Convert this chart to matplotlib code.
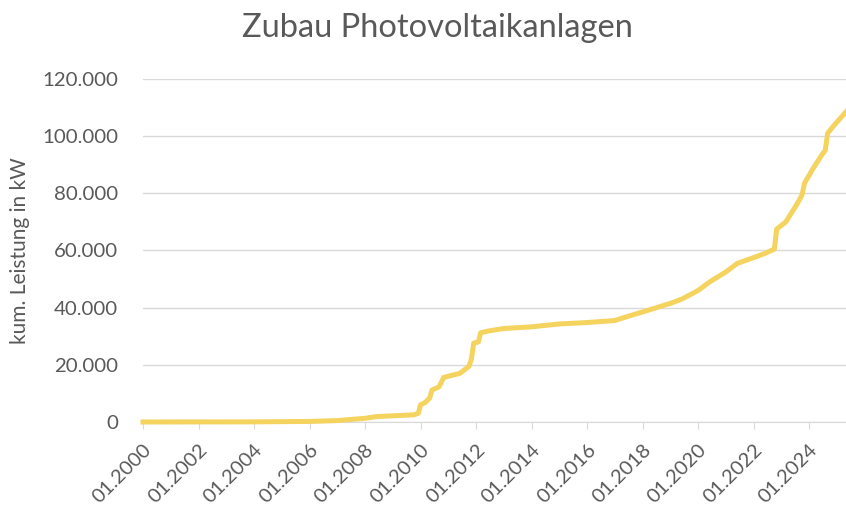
import matplotlib
matplotlib.use("Agg")
import matplotlib.pyplot as plt
import pandas as pd

title = "Zubau Photovoltaikanlagen"
ylabel = "kum. Leistung in kW"

dates = ["01.2000", "01.2004", "01.2006", "01.2007", "01.2008", "06.2008", "10.2009",
         "12.2009", "01.2010", "03.2010", "05.2010", "06.2010", "09.2010", "11.2010",
         "03.2011", "06.2011", "10.2011", "11.2011", "12.2011", "02.2012", "03.2012",
         "06.2012", "01.2013", "01.2014", "07.2014", "01.2015", "01.2016", "01.2017",
         "06.2017", "01.2018", "01.2019", "06.2019", "01.2020", "06.2020", "01.2021",
         "06.2021", "01.2022", "06.2022", "10.2022", "11.2022", "03.2023", "08.2023",
         "10.2023", "11.2023", "03.2024", "07.2024", "08.2024", "09.2024", "12.2024",
         "05.2025"]
values = [0, 50, 200, 500, 1300, 1900, 2500,
          3000, 6000, 6800, 8400, 11200, 12300, 15600,
          16400, 17000, 19500, 22000, 27600, 28000, 31200,
          31800, 32700, 33300, 33800, 34300, 34800, 35500,
          36800, 38500, 41500, 43000, 46000, 49000, 52500,
          55500, 57500, 59000, 60500, 67500, 70000, 76500,
          79500, 83500, 89000, 94000, 95000, 101000, 104000,
          108500]
tick_years = list(range(2000, 2026, 2))
y_ticks = [0, 20000, 40000, 60000, 80000, 100000, 120000]

font = "Lato"
gray = "#595959"

x = pd.to_datetime(dates, format="%m.%Y")

fig = plt.figure(figsize=(8.46, 5.05), dpi=100)
ax = fig.add_axes([143/846, 1-422/505, 1-143/846, (422-79)/505])
ax.plot(x, values, color="#F5D35F", lw=3.6, solid_joinstyle="round", clip_on=False, zorder=3)

ax.set_ylim(0, 120000)
ax.set_xlim(pd.Timestamp("2000-01-01"), x[-1])
ax.set_yticks(y_ticks)
ax.set_yticklabels([f"{v:,}".replace(",", ".") for v in y_ticks], fontfamily=font,
                   fontsize=14.7, color=gray)
ax.tick_params(axis="y", length=0, pad=18)
ax.grid(axis="y", color="#D9D9D9", lw=1)
ax.set_axisbelow(True)

tick_pos = [pd.Timestamp(f"{y}-01-01") for y in tick_years]
ax.set_xticks(tick_pos)
ax.set_xticklabels([f"01.{y}" for y in tick_years], rotation=45, ha="right",
                   rotation_mode="anchor", fontfamily=font, fontsize=14.5, color=gray)
ax.tick_params(axis="x", length=5, color="#D9D9D9", pad=9)

for s in ["top", "right", "left"]:
    ax.spines[s].set_visible(False)
ax.spines["bottom"].set_color("#D9D9D9")

ax.set_ylabel(ylabel, fontfamily=font, fontsize=15, color=gray)
ax.yaxis.set_label_coords((30 - 143) / (846 - 143), 0.5)
fig.text(437/846, 1-28/505, title, ha="center", va="center", fontfamily=font,
         fontsize=23.5, color=gray)

fig.savefig("out.png", dpi=100)
